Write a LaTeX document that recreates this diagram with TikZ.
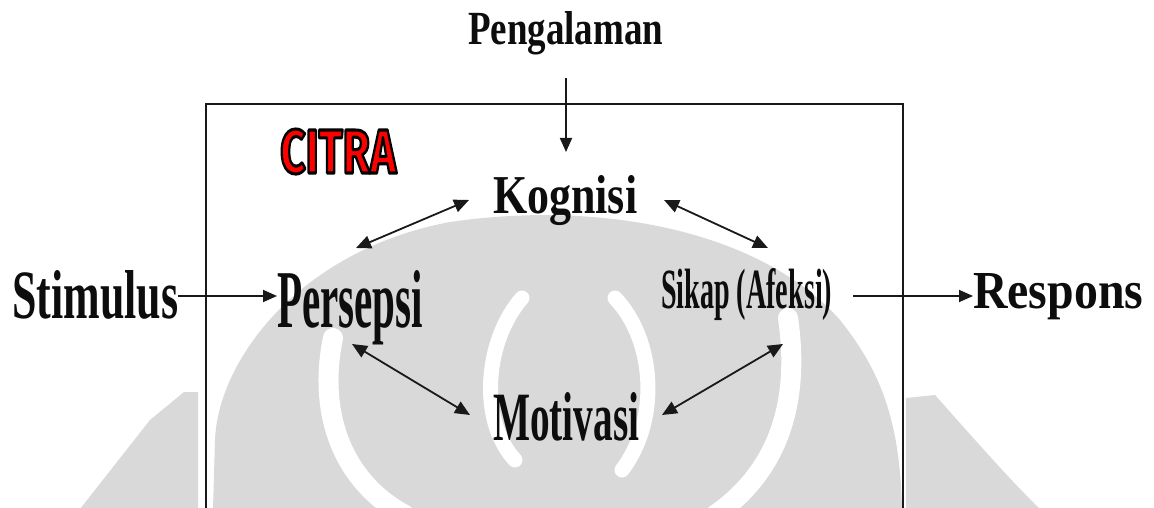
\documentclass[tikz,border=0pt]{standalone}
\usepackage{fontspec}
\setmainfont{Liberation Serif}
\newfontfamily\citrafont{Fira Sans}
\usetikzlibrary{arrows.meta}
\newcommand\olt[1]{{\color{red}\special{pdf:literal direct 2 Tr 3.2 w 1 j 0 0 0 RG}#1\special{pdf:literal direct 0 Tr}}}
\begin{document}
\begin{tikzpicture}[x=1pt,y=-1pt,
  txt/.style={inner sep=0pt,anchor=base west,text=black!95},
  ln/.style={line width=1.8pt,draw=black!90},
  arr/.style={ln,-{Triangle[length=14pt,width=12pt]}},
  darr/.style={ln,{Triangle[length=15pt,width=13pt]}-{Triangle[length=15pt,width=13pt]}},
  wm/.style={fill=black!15,draw=none},
  wmband/.style={draw=white,line cap=round}]
\useasboundingbox (0,0) rectangle (1154,508);
% watermark
\fill[wm] (213,509) -- (215,440) .. controls (218,360) and (300,250) .. (450,222)
  .. controls (600,200) and (760,230) .. (840,320)
  .. controls (880,370) and (900,420) .. (902,509) -- cycle;
\fill[wm] (80,509) -- (150,420) -- (184,392) -- (198,392) -- (198,509) -- cycle;
\fill[wm] (906,398) -- (935,395) .. controls (975,440) and (1010,480) .. (1040,509) -- (906,509) -- cycle;
\draw[wmband,line width=20pt] (333,338) .. controls (318,410) and (340,480) .. (405,515);
\draw[wmband,line width=20pt] (788,318) .. controls (800,400) and (780,470) .. (715,515);
\draw[wmband,line width=15pt] (522,298) .. controls (485,340) and (478,420) .. (515,460);
\draw[wmband,line width=15pt] (615,298) .. controls (655,340) and (660,420) .. (622,470);
% frame
\draw[line width=2pt,black!90] (206,509) -- (206,104) -- (903,104) -- (903,509);
% texts
\node[txt] (peng) at (468,45) {\resizebox{195pt}{33pt}{\bfseries Pengalaman}};
\node[inner sep=0pt,anchor=base west] (citra) at (280,173) {\resizebox{116pt}{44pt}{\citrafont\bfseries\fontsize{64pt}{70pt}\selectfont\olt{CITRA}}};
\node[txt] (kog) at (493,213) {\resizebox{144pt}{38pt}{\bfseries Kognisi}};
\node[txt] (stim) at (12,318) {\resizebox{166pt}{48pt}{\bfseries Stimulus}};
\node[txt] (pers) at (277,327) {\resizebox{146pt}{57pt}{\bfseries Persepsi}};
\node[txt] (sik) at (661,308) {\resizebox{171pt}{40pt}{\bfseries Sikap (Afeksi)}};
\node[txt] (resp) at (973,308) {\resizebox{170pt}{35pt}{\bfseries Respons}};
\node[txt] (mot) at (493,440) {\resizebox{146pt}{48pt}{\bfseries Motivasi}};
% connectors
\coordinate (rowy) at (0,296);
\coordinate (ptop) at (566,78);
\coordinate (pbot) at (566,152);
\draw[arr] (ptop) -- (pbot);
\draw[arr] (stim.east |- rowy) -- (pers.west |- rowy);
\draw[arr] ([xshift=21pt]sik.east |- rowy) -- (resp.west |- rowy);
\coordinate (kpa) at (469,200);
\coordinate (kpb) at (356,248);
\coordinate (ksa) at (664,200);
\coordinate (ksb) at (768,248);
\coordinate (pma) at (352,344);
\coordinate (pmb) at (470,415);
\coordinate (sma) at (783,344);
\coordinate (smb) at (662,415);
\draw[darr] (kpa) -- (kpb);
\draw[darr] (ksa) -- (ksb);
\draw[darr] (pma) -- (pmb);
\draw[darr] (sma) -- (smb);
\end{tikzpicture}
\end{document}
